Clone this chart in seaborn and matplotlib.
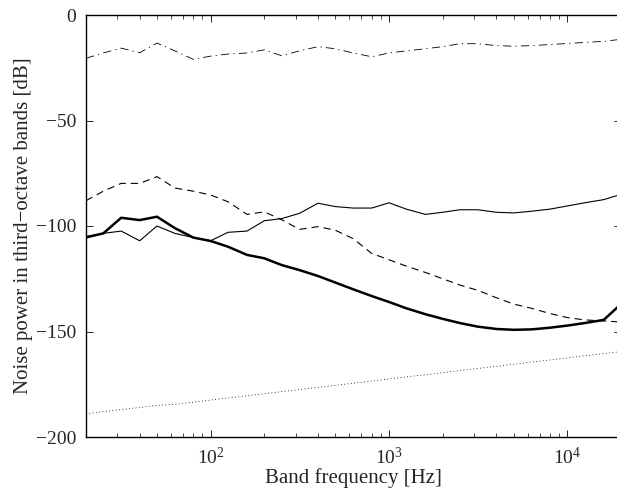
import numpy as np
import pandas as pd
import matplotlib
matplotlib.use('Agg')
import matplotlib.pyplot as plt
import seaborn as sns

# third-octave band centre frequencies [Hz]
bands = [20, 25, 31.5, 40, 50, 63, 80, 100, 125, 160, 200, 250, 315, 400, 500,
         630, 800, 1000, 1250, 1600, 2000, 2500, 3150, 4000, 5000, 6300, 8000,
         10000, 12500, 16000, 20000]

# noise power per band [dB]
dashdot = [-20.5, -18, -15.7, -17.9, -13.3, -17, -21, -19.5, -18.5, -18, -16.5,
           -19.3, -17, -15, -16, -18, -19.8, -18, -17, -16, -15, -13.6, -13.6,
           -14.5, -14.8, -14.5, -14, -13.5, -13, -12.5, -11.5]
dashed = [-88, -83.5, -79.8, -79.8, -76.6, -82, -83.5, -85.3, -88.5, -94.5, -93.3,
          -97, -101.6, -100.3, -102, -106, -113, -116, -119, -122, -125, -128,
          -130.5, -134, -137, -139, -141.5, -143.4, -144.5, -145, -145.5]
thin = [-105, -103.5, -102.4, -107, -100, -103.5, -105.5, -107, -103, -102.4, -97.5,
        -96.5, -94, -89.2, -90.8, -91.5, -91.5, -89, -92, -94.5, -93.5, -92.3,
        -92.3, -93.5, -93.8, -93, -92, -90.5, -89, -87.5, -85]
thick = [-105.4, -103.5, -96.1, -97.2, -95.6, -101, -105.5, -107.1, -109.8, -113.7,
         -115.3, -118.5, -120.9, -123.7, -126.8, -130, -133.2, -136, -139, -141.8,
         -144, -146, -147.7, -148.8, -149.2, -149, -148.2, -147.2, -146, -144.5, -137]
dotted = [-189, -188, -187, -186, -185, -184.5, -183.5, -182.5, -181.5, -180.5,
          -179.5, -178.5, -177.5, -176.5, -175.5, -174.5, -173.5, -172.5, -171.5,
          -170.5, -169.5, -168.5, -167.5, -166.5, -165.5, -164.5, -163.5, -162.5,
          -161.5, -160.5, -159.5]

sns.set_style('ticks')
plt.rcParams['font.family'] = ['Liberation Serif', 'DejaVu Serif']
plt.rcParams['mathtext.fontset'] = 'custom'
plt.rcParams['mathtext.rm'] = 'Liberation Serif'
plt.rcParams['mathtext.it'] = 'Liberation Serif:italic'

fig = plt.figure(figsize=(6.17, 4.93), dpi=100)
ax = fig.add_axes([86 / 617, 1 - 437 / 493, (621 - 86) / 617, (437 - 15) / 493])

series = [
    (dashdot, 0.6, (0, (10, 5, 1.5, 5))),
    (dashed, 0.8, (0, (6.5, 4.5))),
    (thin, 0.8, '-'),
    (thick, 1.8, '-'),
    (dotted, 0.6, (0, (1, 3))),
]
for vals, lw, ls in series:
    sns.lineplot(x=bands, y=vals, ax=ax, color='black', linewidth=lw,
                 linestyle=ls, estimator=None, sort=False)

ax.set_xscale('log')
ax.set_xlim(20, 20000)
ax.set_ylim(-200, 0)
ax.set_yticks([-200, -150, -100, -50, 0])
ax.set_xlabel('Band frequency [Hz]', fontsize=15, labelpad=0)
ax.set_ylabel('Noise power in third\u2212octave bands [dB]', fontsize=15, labelpad=2)
ax.tick_params(which='both', direction='in', top=True, right=True,
               labelsize=14, color='black')
ax.tick_params(which='major', length=5, width=0.6, pad=7)
ax.tick_params(which='minor', length=3, width=0.5)
for s in ax.spines.values():
    s.set_linewidth(1.0)
    s.set_color('black')

fig.savefig('out.png', dpi=100)
